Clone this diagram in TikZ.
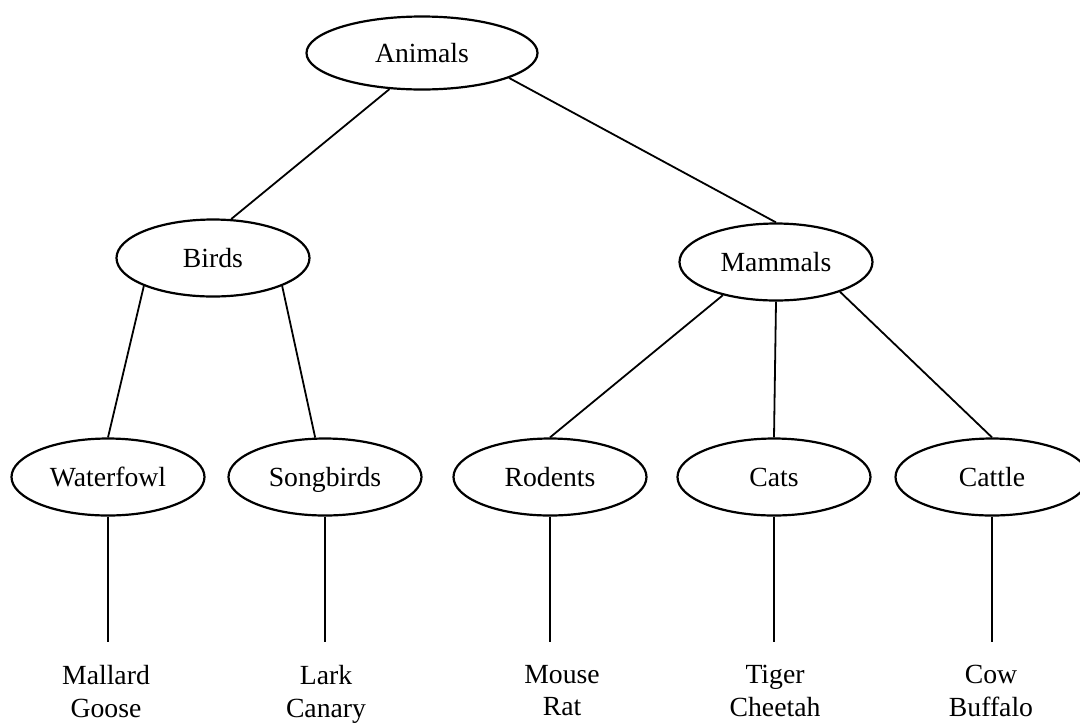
\documentclass[tikz,border=0pt]{standalone}
\usepackage{fontspec}
\setmainfont{Liberation Serif}
\usetikzlibrary{shapes.geometric}
\begin{document}
\begin{tikzpicture}[x=0.5pt,y=-0.5pt,
  every node/.style={font=\fontsize{13.85pt}{16.2pt}\selectfont},
  category/.style={ellipse,draw,line width=1.1pt,inner sep=0pt,
    text height=9.5pt,text depth=0pt,
    minimum width=96.5pt,minimum height=38.5pt},
  leaf/.style={align=center,inner sep=0pt,anchor=north},
  link/.style={line width=0.9pt}]
  \useasboundingbox (0,0) rectangle (1080,724);

  % top level
  \node[category,minimum width=115.5pt,minimum height=36.5pt] (animals) at (422,53) {Animals};

  % second level
  \node[category] (birds)   at (213,258) {Birds};
  \node[category] (mammals) at (776,262) {Mammals};

  % third level
  \node[category] (waterfowl) at (108,477) {Waterfowl};
  \node[category] (songbirds) at (325,477) {Songbirds};
  \node[category] (rodents)   at (550,477) {Rodents};
  \node[category] (cats)      at (774,477) {Cats};
  \node[category] (cattle)    at (992,477) {Cattle};

  % ends of the stems below the third level
  \coordinate (wEnd) at (108,642);
  \coordinate (sEnd) at (325,642);
  \coordinate (rEnd) at (550,642);
  \coordinate (cEnd) at (774,642);
  \coordinate (tEnd) at (992,642);

  % example species
  \node[leaf] (wLeaf) at (106,665) {Mallard\\Goose};
  \node[leaf] (sLeaf) at (326,665) {Lark\\Canary};
  \node[leaf] (rLeaf) at (562,665) {Mouse\\Rat};
  \node[leaf] (cLeaf) at (775,665) {Tiger\\Cheetah};
  \node[leaf] (tLeaf) at (991,665) {Cow\\Buffalo};

  % tree edges
  \draw[link] (animals.228) -- (birds.65);
  \draw[link] (animals.344) -- (mammals.north);
  \draw[link] (birds.202) -- (waterfowl.north);
  \draw[link] (birds.338) -- (songbirds.104);
  \draw[link] (mammals.212) -- (rodents.north);
  \draw[link] (mammals.south) -- (cats.north);
  \draw[link] (mammals.335) -- (cattle.north);

  % stems to the species lists
  \draw[link] (waterfowl.south) -- (wEnd);
  \draw[link] (songbirds.south) -- (sEnd);
  \draw[link] (rodents.south) -- (rEnd);
  \draw[link] (cats.south) -- (cEnd);
  \draw[link] (cattle.south) -- (tEnd);
\end{tikzpicture}
\end{document}
